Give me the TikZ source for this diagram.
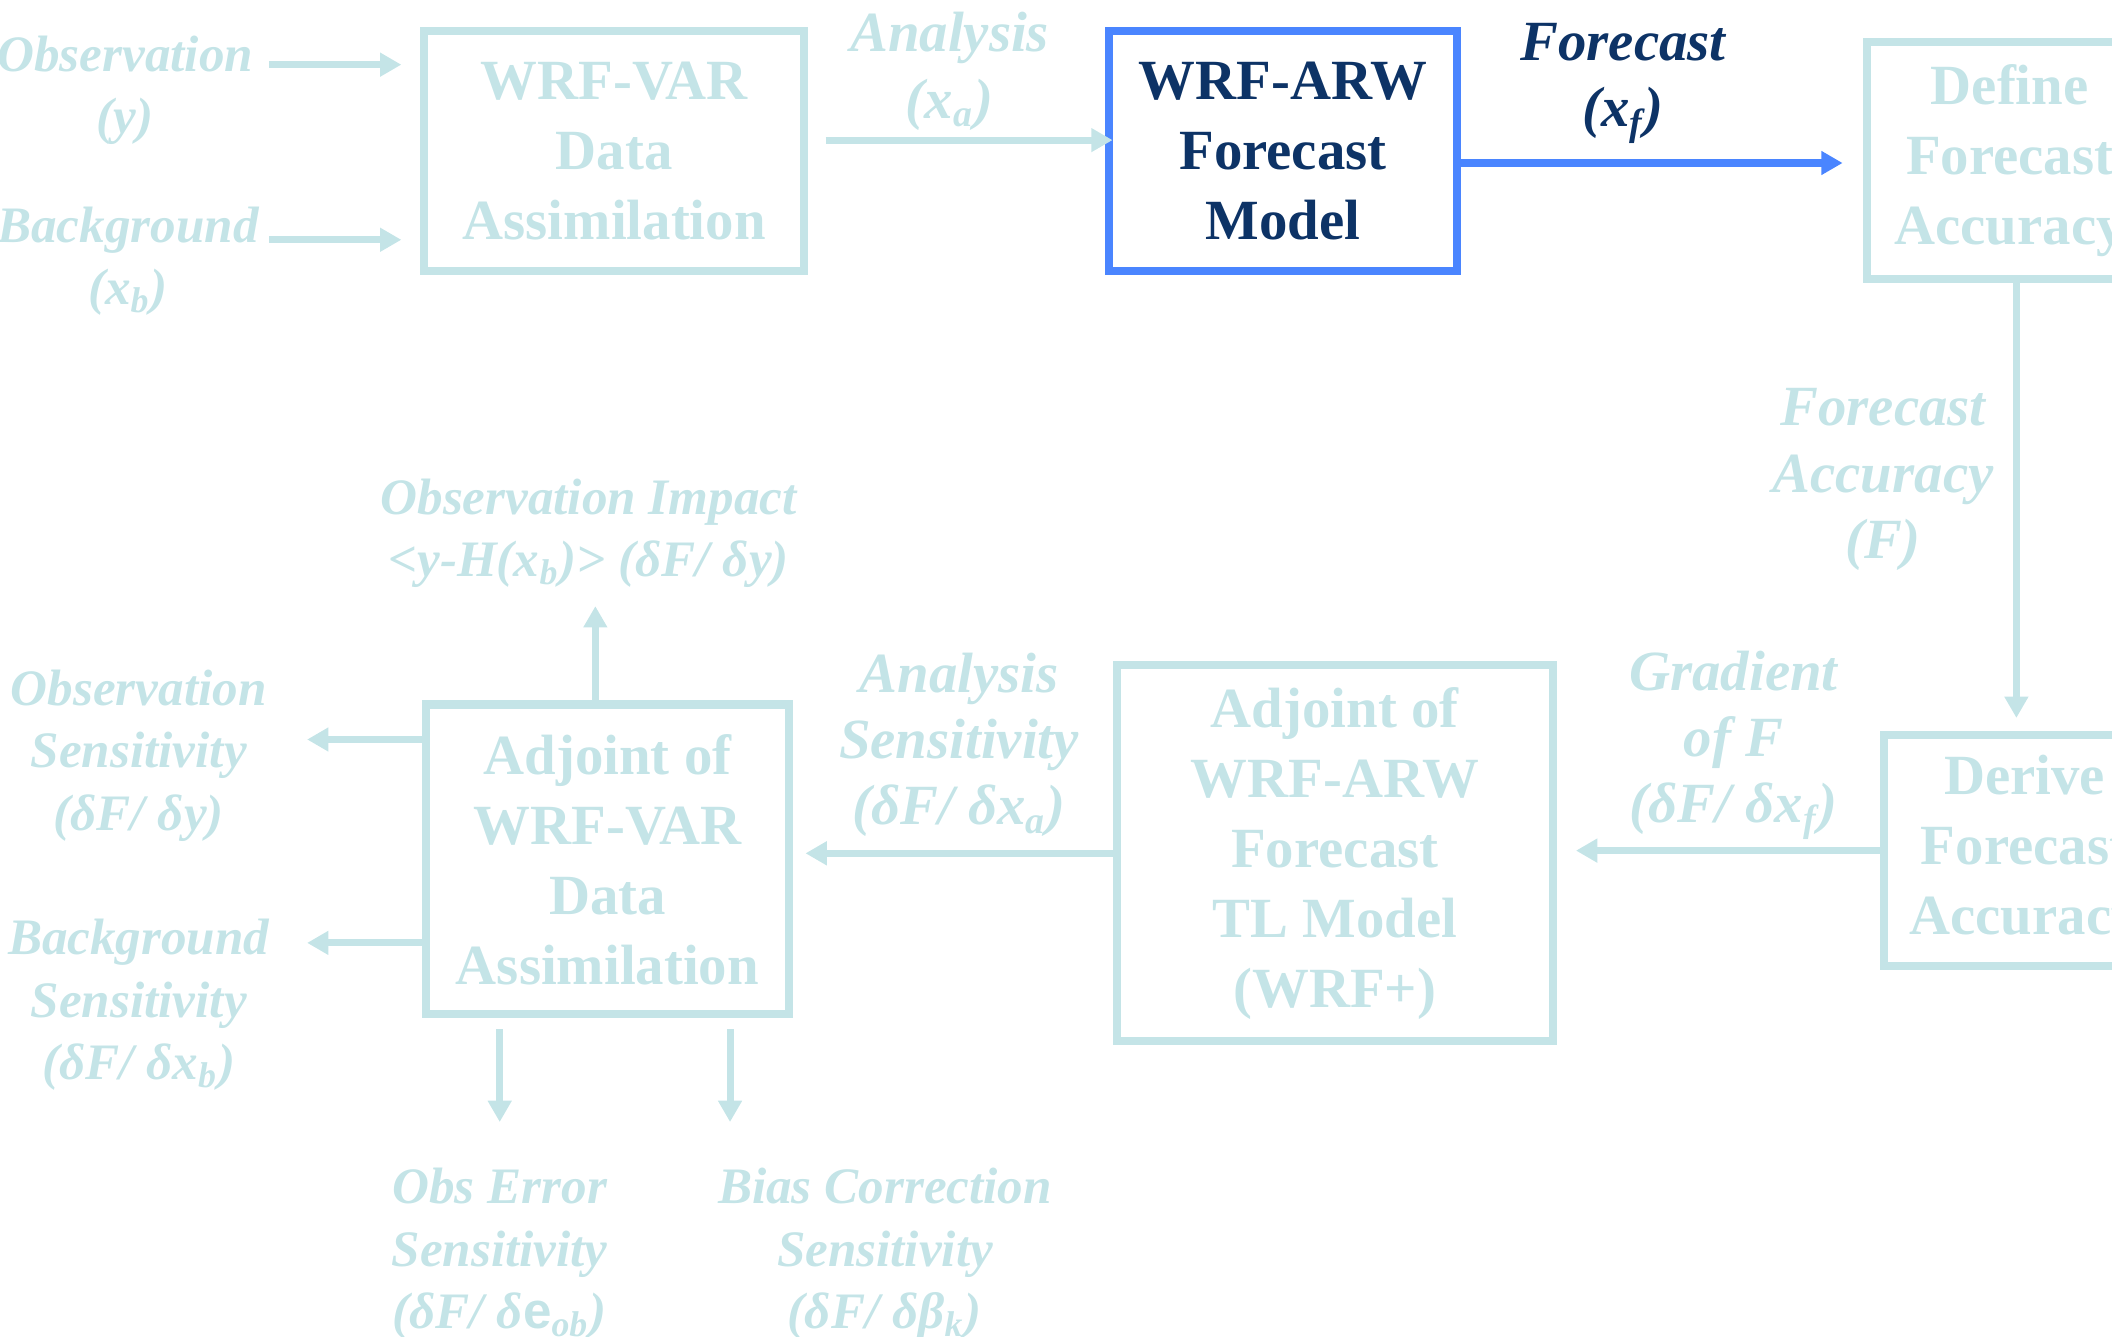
\documentclass[tikz,border=0pt]{standalone}
\usepackage{fontspec}
\setmainfont{Liberation Serif}
\newfontfamily\sansfont{Liberation Sans}
\usetikzlibrary{positioning,calc,arrows.meta}
\definecolor{pale}{HTML}{C4E4E7}
\definecolor{navy}{HTML}{0D3366}
\definecolor{fblue}{HTML}{4A85FF}
\newcommand\lo[1]{\textsubscript{#1}}
\tikzset{
  box/.style   = {draw=pale, line width=1.7pt, text=pale, align=center,
                  inner sep=0pt, outer sep=0pt,
                  font=\bfseries\fontsize{12}{14.8}\selectfont},
  mbox/.style  = {box, draw=fblue, text=navy},
  lbl/.style   = {text=pale, align=center, inner sep=0pt,
                  font=\bfseries\itshape\fontsize{10.8}{13.2}\selectfont},
  lblw/.style  = {lbl, font=\bfseries\itshape\fontsize{12}{14}\selectfont},
  flow/.style  = {draw=pale, line width=1.5pt,
                  -{Triangle[length=4.5pt,width=4.8pt]}},
  fflow/.style = {flow, draw=fblue},
}

\begin{document}
\begin{tikzpicture}
  \useasboundingbox (0,0) rectangle (15.68,-9.92);
  \clip (0,0) rectangle (15.68,-9.92);
  % forward chain
  \node[box, minimum width=2.82cm, minimum height=1.78cm] (var) at (4.56,-1.12)
    {WRF-VAR\\Data\\Assimilation};
  \node[mbox, minimum width=2.59cm, minimum height=1.78cm] (arw) at (9.525,-1.12)
    {WRF-ARW\\Forecast\\Model};
  \node[box, minimum width=2.12cm, minimum height=1.76cm] (def) at (14.92,-1.19)
    {Define\\Forecast\\Accuracy};
  % adjoint chain
  \node[box, minimum width=2.08cm, minimum height=1.71cm] (der) at (15.03,-6.315)
    {Derive\\Forecast\\Accuracy};
  \node[box, minimum width=3.24cm, minimum height=2.79cm] (wrfp) at (9.91,-6.335)
    {Adjoint of\\WRF-ARW\\Forecast\\TL Model\\(WRF+)};
  \node[box, minimum width=2.70cm, minimum height=2.30cm] (avar) at (4.51,-6.38)
    {Adjoint of\\WRF-VAR\\Data\\Assimilation};

  \node[lbl] (obs) at (0.93,-0.67) {Observation\\(y)};
  \node[lbl] (bg) at (0.95,-1.94) {Background\\(x\lo{b})};
  \node[lblw] (ana) at (7.05,-0.53) {Analysis\\(x\lo{a})};
  \node[lblw, text=navy] (fc) at (12.05,-0.62) {Forecast\\(x\lo{f})};
  \node[lblw] (facc) at (13.98,-3.56) {Forecast\\Accuracy\\(F)};
  \node[lblw] (grad) at (12.87,-5.53) {Gradient\\of F\\(δF/ δx\lo{f})};
  \node[lblw] (asens) at (7.12,-5.53) {Analysis\\Sensitivity\\(δF/ δx\lo{a})};
  \node[lbl] (impact) at (4.37,-3.96) {Observation Impact\\<y-H(x\lo{b})> (δF/ δy)};
  \node[lbl] (osens) at (1.03,-5.61) {Observation\\Sensitivity\\(δF/ δy)};
  \node[lbl] (bsens) at (1.03,-7.46) {Background\\Sensitivity\\(δF/ δx\lo{b})};
  \node[lbl] (oerr) at (3.71,-9.31)
    {Obs Error\\Sensitivity\\(δF/ δ{\sansfont\upshape e}\lo{ob})};
  \node[lbl] (bias) at (6.57,-9.31) {Bias Correction\\Sensitivity\\(δF/ δβ\lo{k})};

  \coordinate (obsin) at (2.00,-0.48);
  \coordinate (bgin) at (2.00,-1.78);
  \coordinate (fcout) at ([yshift=-0.9mm]arw.east);
  \coordinate (accout) at ([xshift=0.5mm]def.south);
  \coordinate (impin) at ([xshift=-0.9mm]avar.north);
  \coordinate (osout) at ([yshift=8.9mm]avar.west);
  \coordinate (bsout) at ([yshift=-6.2mm]avar.west);
  \coordinate (oetip) at (3.71,-8.33);
  \coordinate (bctip) at (5.42,-8.33);

  \draw[flow, shorten >=1.7mm] (obsin) -- (obsin -| var.west);
  \draw[flow, shorten >=1.7mm] (bgin) -- (bgin -| var.west);
  \draw[flow, shorten <=1.6mm, shorten >=-0.3mm]
    ([yshift=0.8mm]var.east) -- ([yshift=0.8mm]arw.west);
  \draw[fflow, shorten >=1.8mm] (fcout) -- (fcout -| def.west);
  \draw[flow, shorten >=1.3mm] (accout) -- (accout |- der.north);
  \draw[flow, shorten >=1.7mm] (der.west) -- (der.west -| wrfp.east);
  \draw[flow, shorten >=1.2mm] (wrfp.west) -- (wrfp.west -| avar.east);
  \draw[flow] (impin) -- (impin |- 0,-4.50);
  \draw[flow] (osout) -- (osout -| 2.28,0);
  \draw[flow] (bsout) -- (bsout -| 2.28,0);
  \draw[flow, shorten <=1.1mm] (oetip |- avar.south) -- (oetip);
  \draw[flow, shorten <=1.1mm] (bctip |- avar.south) -- (bctip);
\end{tikzpicture}
\end{document}
